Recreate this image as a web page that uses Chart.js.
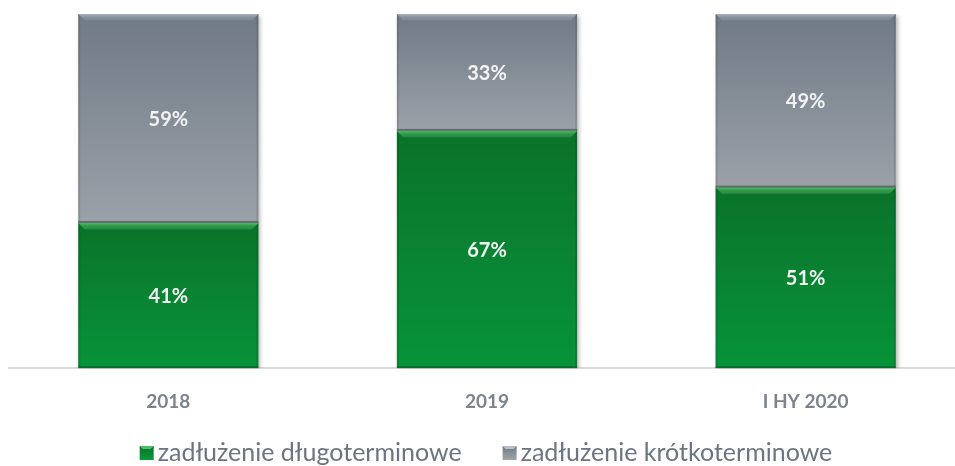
<!DOCTYPE html>
<html>
<head>
<meta charset="utf-8">
<script src="https://cdn.jsdelivr.net/npm/chart.js@4.4.1/dist/chart.umd.min.js"></script>
<style>
html,body{margin:0;padding:0;background:#fff;overflow:hidden;}
#wrap{width:955px;height:466px;overflow:hidden;position:relative;}
#box{width:972px;height:466px;position:absolute;left:0;top:0;}
</style>
</head>
<body>
<div id="wrap"><div id="box"><canvas id="c"></canvas></div></div>
<script>
const categories = ['2018', '2019', 'I HY 2020'];
const longTerm = [41, 67, 51];
const shortTerm = [59, 33, 49];
const seriesNames = ['zadłużenie długoterminowe', 'zadłużenie krótkoterminowe'];

const FONT = 'Lato, "Open Sans", sans-serif';

function barGradient(ctx, top, bottom, c1, c2) {
  const g = ctx.chart.ctx.createLinearGradient(0, top, 0, bottom);
  g.addColorStop(0, c1);
  g.addColorStop(1, c2);
  return g;
}

function bgFor(dsIndex, c1, c2, solid) {
  return function(ctx) {
    const chart = ctx.chart;
    if (!chart.chartArea || ctx.type !== 'data') return solid;
    const y = chart.scales.y;
    const i = ctx.dataIndex;
    let a, b;
    if (dsIndex === 0) { a = y.getPixelForValue(longTerm[i]); b = y.getPixelForValue(0); }
    else { a = y.getPixelForValue(longTerm[i] + shortTerm[i]); b = y.getPixelForValue(longTerm[i]); }
    if (!isFinite(a) || !isFinite(b)) return solid;
    return barGradient(ctx, a, b, c1, c2);
  };
}

const bevelPlugin = {
  id: 'bevel',
  beforeDatasetDraw(chart) {
    const c = chart.ctx;
    c.save();
    c.shadowColor = 'rgba(0,0,0,0.28)';
    c.shadowBlur = 4;
    c.shadowOffsetX = 2;
    c.shadowOffsetY = 2;
  },
  afterDatasetDraw(chart) {
    chart.ctx.restore();
  },
  afterDatasetsDraw(chart) {
    const c = chart.ctx;
    const b = 7;
    chart.data.datasets.forEach((ds, di) => {
      const meta = chart.getDatasetMeta(di);
      meta.data.forEach((el, i) => {
        const l = el.x - el.width / 2, r = el.x + el.width / 2;
        const t = Math.min(el.y, el.base), bt = Math.max(el.y, el.base);
        const light = di === 0 ? 'rgba(95,210,115,0.8)' : 'rgba(205,216,228,0.6)';
        const dark = di === 0 ? 'rgba(0,50,15,0.35)' : 'rgba(60,62,70,0.55)';
        const side = di === 0 ? 'rgba(0,60,20,0.18)' : 'rgba(40,45,55,0.15)';
        // top bevel
        const g = c.createLinearGradient(0, t, 0, t + b);
        g.addColorStop(0, light);
        g.addColorStop(0.5, di === 0 ? 'rgba(80,190,100,0.45)' : 'rgba(190,200,212,0.3)');
        g.addColorStop(1, 'rgba(255,255,255,0)');
        c.fillStyle = g;
        c.beginPath(); c.moveTo(l, t); c.lineTo(r, t); c.lineTo(r - b, t + b); c.lineTo(l + b, t + b); c.closePath(); c.fill();
        // right bevel
        c.fillStyle = side;
        c.beginPath(); c.moveTo(r, t); c.lineTo(r, bt); c.lineTo(r - 2, bt - 2); c.lineTo(r - 2, t + 2); c.closePath(); c.fill();
        // left bevel
        c.beginPath(); c.moveTo(l, t); c.lineTo(l + 2, t + 2); c.lineTo(l + 2, bt - 2); c.lineTo(l, bt); c.closePath(); c.fill();
        // bottom edge
        c.fillStyle = dark;
        c.fillRect(l, bt - 2, r - l, 2);
        // label
        c.fillStyle = '#f2f4f3';
        c.font = 'bold 20px ' + FONT;
        c.textAlign = 'center';
        c.textBaseline = 'middle';
        c.fillText(ds.data[i] + '%', el.x, (t + bt) / 2 + 1);
      });
    });
  }
};

const legendPlugin = {
  id: 'customLegend',
  afterDraw(chart) {
    const c = chart.ctx;
    const box = 14, gapText = 4, gapItems = 41, fs = 25;
    c.save();
    c.font = fs + 'px ' + FONT;
    const widths = seriesNames.map(s => c.measureText(s).width);
    const total = widths.reduce((a, w) => a + box + gapText + w, 0) + gapItems * (seriesNames.length - 1);
    let x = 486 - total / 2;
    const yc = 453;
    seriesNames.forEach((s, i) => {
      const grd = c.createLinearGradient(0, yc - box / 2, 0, yc + box / 2);
      grd.addColorStop(0, i === 0 ? '#0a7329' : '#6f7984');
      grd.addColorStop(1, i === 0 ? '#0a9a3c' : '#a0a6ad');
      c.fillStyle = grd;
      c.fillRect(x, yc - box / 2, box, box);
      c.fillStyle = i === 0 ? 'rgba(110,220,130,0.7)' : 'rgba(210,218,228,0.7)';
      c.beginPath(); c.moveTo(x, yc - box / 2); c.lineTo(x + box, yc - box / 2); c.lineTo(x + box - 3, yc - box / 2 + 3); c.lineTo(x + 3, yc - box / 2 + 3); c.closePath(); c.fill();
      c.fillStyle = '#6b7480';
      c.textAlign = 'left';
      c.textBaseline = 'middle';
      c.fillText(s, x + box + gapText, yc);
      x += box + gapText + widths[i] + gapItems;
    });
    c.restore();
  }
};

new Chart(document.getElementById('c'), {
  type: 'bar',
  data: {
    labels: categories,
    datasets: [
      { label: seriesNames[0], data: longTerm, backgroundColor: bgFor(0, '#0a7329', '#07933a', '#088532'), borderWidth: 0, barPercentage: 0.75, categoryPercentage: 0.754 },
      { label: seriesNames[1], data: shortTerm, backgroundColor: bgFor(1, '#707a85', '#9ba1a9', '#868e97'), borderWidth: 0, barPercentage: 0.75, categoryPercentage: 0.754 }
    ]
  },
  options: {
    responsive: true,
    maintainAspectRatio: false,
    animation: false,
    layout: { padding: { left: 9, right: 7, top: 14, bottom: 39 } },
    plugins: {
      tooltip: { enabled: false },
      legend: { display: false }
    },
    scales: {
      x: {
        stacked: true,
        grid: { display: false },
        border: { color: '#dadada', width: 2 },
        ticks: { color: '#7b848e', padding: 14, font: { family: FONT, size: 19, weight: 'bold' } }
      },
      y: { stacked: true, display: false, min: 0, max: 100 }
    }
  },
  plugins: [bevelPlugin, legendPlugin]
});
</script>
</body>
</html>
